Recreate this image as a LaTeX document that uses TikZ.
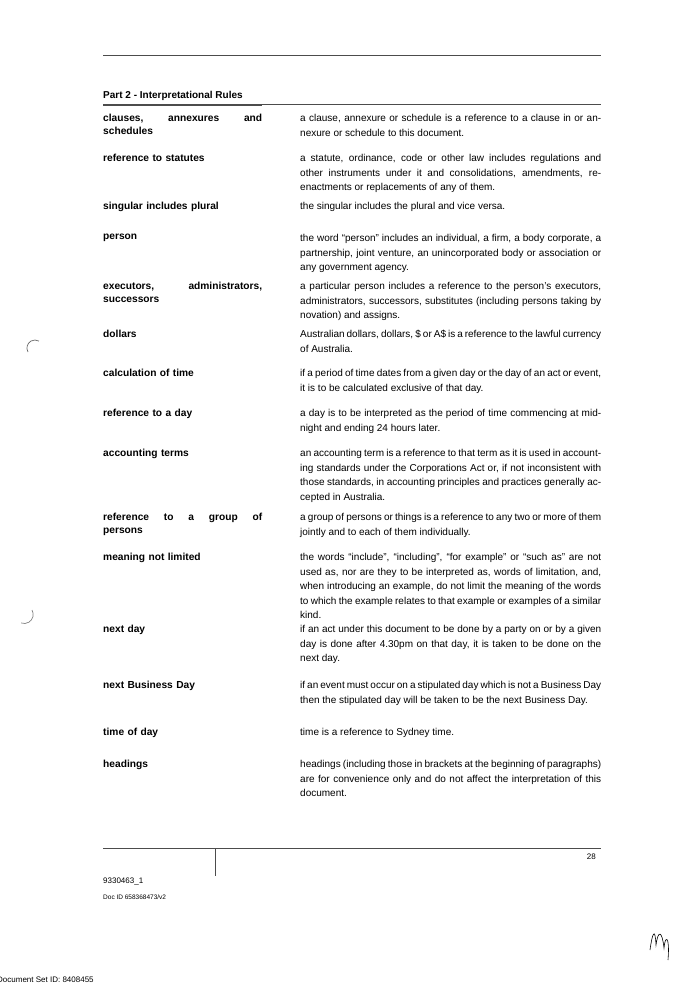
\documentclass[tikz,border=0pt]{standalone}
\usepackage{fontspec}
\setmainfont{Liberation Sans}
\newcommand{\nohyph}{\hyphenpenalty=10000\relax}
\begin{document}
\begin{tikzpicture}[x=1pt,y=-1pt,
  lbl/.style={anchor=north west,inner sep=0pt,text width=159pt,align=left,font=\fontsize{10.2}{13}\selectfont\bfseries},
  txt/.style={anchor=north west,inner sep=0pt,text width=301pt,align=justify,font=\fontsize{10}{14.6}\selectfont},
  rule/.style={line width=0.6pt,black!70}]
\useasboundingbox (0,0) rectangle (694,990);
\draw[rule] (103,55) -- (601,55);
\node[anchor=west,inner sep=0pt,font=\fontsize{10}{12}\selectfont\bfseries] (h) at (103,96) {Part 2 - Interpretational Rules};
\draw[rule,line width=0.4pt] (103,104) -- (601,104);
\draw[rule,line width=0.4pt] (103,104.8) -- (262,104.8);
\newcommand{\entry}[4]{%
 \node[lbl] (l#1) at (103,#2) {#3};
 \node[txt] (t#1) at (300,#2) {\nohyph #4};}
\entry{a}{114}{clauses,\hfill annexures\hfill and\\schedules}{a clause, annexure or schedule is a reference to a clause in or annexure or schedule to this document.}
\entry{b}{154}{reference to statutes}{a statute, ordinance, code or other law includes regulations and other instruments under it and consolidations, amendments, re-enactments or replacements of any of them.}
\entry{c}{202}{singular includes plural}{the singular includes the plural and vice versa.}
\entry{d}{234}{person}{the word ``person'' includes an individual, a firm, a body corporate, a partnership, joint venture, an unincorporated body or association or any government agency.}
\entry{e}{282}{executors,\hfill administrators,\\successors}{a particular person includes a reference to the person's executors, administrators, successors, substitutes (including persons taking by novation) and assigns.}
\entry{f}{330}{dollars}{Australian dollars, dollars, \$ or A\$ is a reference to the lawful currency of Australia.}
\entry{g}{369}{calculation of time}{if a period of time dates from a given day or the day of an act or event, it is to be calculated exclusive of that day.}
\entry{h2}{409}{reference to a day}{a day is to be interpreted as the period of time commencing at midnight and ending 24 hours later.}
\entry{i}{449}{accounting terms}{an accounting term is a reference to that term as it is used in accounting standards under the Corporations Act or, if not inconsistent with those standards, in accounting principles and practices generally accepted in Australia.}
\entry{j}{513}{reference\hfill to\hfill a\hfill group\hfill of\\persons}{a group of persons or things is a reference to any two or more of them jointly and to each of them individually.}
\entry{k}{553}{meaning not limited}{the words ``include'', ``including'', ``for example'' or ``such as'' are not used as, nor are they to be interpreted as, words of limitation, and, when introducing an example, do not limit the meaning of the words to which the example relates to that example or examples of a similar kind.}
\entry{m}{625}{next day}{if an act under this document to be done by a party on or by a given day is done after 4.30pm on that day, it is taken to be done on the next day.}
\entry{n}{681}{next Business Day}{if an event must occur on a stipulated day which is not a Business Day then the stipulated day will be taken to be the next Business Day.}
\entry{o}{728}{time of day}{time is a reference to Sydney time.}
\entry{p}{760}{headings}{headings (including those in brackets at the beginning of paragraphs) are for convenience only and do not affect the interpretation of this document.}
\draw[rule] (103,848) -- (601,848);
\draw[rule,line width=0.8pt] (215,848) -- (215,876);
\node[anchor=east,inner sep=0pt,font=\fontsize{8}{10}\selectfont] (pg) at (596,857) {28};
\node[anchor=west,inner sep=0pt,font=\fontsize{8}{10}\selectfont] (id) at (103,881) {9330463\_1};
\node[anchor=west,inner sep=0pt,font=\fontsize{6.5}{8}\selectfont] (doc) at (103,897) {Doc ID 658368473/v2};
\node[anchor=west,inner sep=0pt,font=\fontsize{8}{10}\selectfont] (set) at (-3,980) {Document Set ID: 8408455};
\draw[black!60,line width=0.7pt] (28,352) arc (150:300:8);
\draw[black!50,line width=0.7pt] (32,610) arc (-30:110:9);
\draw[line width=0.6pt] (650,950) .. controls (652,935) and (655,925) .. (656,945) .. controls (658,930) and (662,930) .. (664,948) .. controls (665,935) and (670,935) .. (668,960);
\end{tikzpicture}
\end{document}
